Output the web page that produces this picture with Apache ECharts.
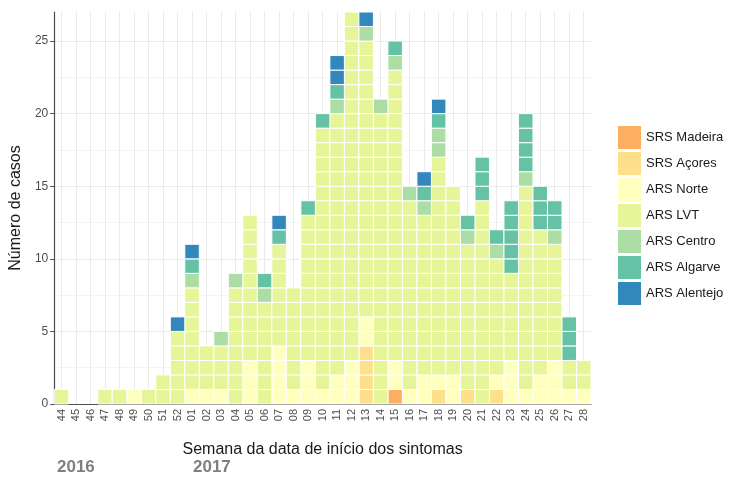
<!DOCTYPE html>
<html>
<head>
<meta charset="utf-8">
<script src="https://cdn.jsdelivr.net/npm/echarts@6/dist/echarts.min.js"></script>
<style>
  html, body { margin: 0; padding: 0; background: #fff; }
  #chart { width: 729px; height: 477px; }
</style>
</head>
<body>
<div id="chart"></div>
<script>
// semanas 44-52 de 2016 e 01-28 de 2017
var weeks = ['44','45','46','47','48','49','50','51','52',
  '01','02','03','04','05','06','07','08','09','10','11','12','13','14',
  '15','16','17','18','19','20','21','22','23','24','25','26','27','28'];

// casos por região e semana (mesma ordem que weeks)
var madeira  = [0,0,0,0,0,0,0,0,0, 0,0,0,0,0,0,0,0,0,0,0,0,0,0,1,0,0,0,0,0,0,0,0,0,0,0,0,0];
var acores   = [0,0,0,0,0,0,0,0,0, 0,0,0,0,0,0,0,0,0,0,0,0,4,0,0,0,0,1,0,1,0,1,0,0,0,0,0,0];
var norte    = [0,0,0,0,0,1,0,0,0, 1,1,1,0,3,0,4,1,3,1,2,3,2,0,2,1,2,1,2,0,0,1,3,1,2,3,1,1];
var lvt      = [1,0,0,1,1,0,1,2,5, 7,3,3,8,10,7,7,7,10,18,18,24,19,20,20,13,11,15,13,10,14,8,6,14,10,8,2,2];
var centro   = [0,0,0,0,0,0,0,0,0, 1,0,1,1,0,1,0,0,0,0,1,0,1,1,1,1,1,2,0,1,0,1,0,1,0,1,0,0];
var algarve  = [0,0,0,0,0,0,0,0,0, 1,0,0,0,0,1,1,0,1,1,1,0,0,0,1,0,1,1,0,1,3,1,5,4,3,2,3,0];
var alentejo = [0,0,0,0,0,0,0,0,1, 1,0,0,0,0,0,1,0,0,0,2,0,1,0,0,0,1,1,0,0,0,0,0,0,0,0,0,0];

var regionNames  = ['SRS Madeira','SRS Açores','ARS Norte','ARS LVT','ARS Centro','ARS Algarve','ARS Alentejo'];
var regionCounts = [madeira, acores, norte, lvt, centro, algarve, alentejo];
var regionColors = ['#FDAE61','#FEE08B','#FFFFBF','#E6F598','#ABDDA4','#66C2A5','#3288BD'];
var yTicks = [0, 5, 10, 15, 20, 25];

var FONT = "'Liberation Sans', Arial, sans-serif";

// um quadrado por caso
function renderCase(params, api) {
  var w = api.value(0), lvl = api.value(1);
  var bottom = api.coord([w, lvl]);
  var top = api.coord([w, lvl + 1]);
  var bw = api.size([1, 0])[0];
  return {
    type: 'rect',
    shape: { x: bottom[0] - bw / 2, y: top[1], width: bw, height: bottom[1] - top[1] },
    style: { fill: api.visual('color'), stroke: '#fff', lineWidth: 1 }
  };
}

// empilhar as regiões, cada caso como uma célula
var base = weeks.map(function () { return 0; });
var series = regionNames.map(function (name, r) {
  var cells = [];
  weeks.forEach(function (wk, i) {
    for (var k = 0; k < regionCounts[r][i]; k++) {
      cells.push([i, base[i] + k]);
    }
    base[i] += regionCounts[r][i];
  });
  return {
    name: name,
    type: 'custom',
    renderItem: renderCase,
    itemStyle: { color: regionColors[r] },
    encode: { x: 0, y: 1 },
    data: cells
  };
});

var chart = echarts.init(document.getElementById('chart'));
var option = {
  animation: false,
  textStyle: { fontFamily: FONT },
  grid: { left: 54, right: 138, top: 12, bottom: 73 },
  legend: {
    orient: 'vertical',
    left: 618,
    top: 126,
    padding: 0,
    itemWidth: 23,
    itemHeight: 23,
    itemGap: 3,
    icon: 'rect',
    data: regionNames,
    textStyle: { fontSize: 13, color: '#1A1A1A', fontFamily: FONT }
  },
  xAxis: {
    type: 'category',
    data: weeks,
    boundaryGap: true,
    name: 'Semana da data de início dos sintomas',
    nameLocation: 'middle',
    nameGap: 38,
    nameTextStyle: { fontSize: 16, color: '#1A1A1A', fontFamily: FONT },
    axisLine: { lineStyle: { color: '#4D4D4D', width: 1.2 } },
    axisTick: { alignWithLabel: true, length: 3, lineStyle: { color: '#4D4D4D' } },
    axisLabel: { rotate: 90, interval: 0, fontSize: 11, color: '#4D4D4D', margin: 5, fontFamily: FONT },
    splitLine: { show: true, alignWithLabel: true, lineStyle: { color: '#EBEBEB', width: 1 } }
  },
  yAxis: {
    type: 'value',
    min: 0,
    max: 27,
    interval: 5,
    name: 'Número de casos',
    nameLocation: 'middle',
    nameGap: 28,
    nameTextStyle: { fontSize: 16, color: '#1A1A1A', fontFamily: FONT },
    axisLine: { show: true, lineStyle: { color: '#4D4D4D', width: 1.2 } },
    axisTick: { show: true, length: 4, customValues: yTicks, lineStyle: { color: '#4D4D4D' } },
    axisLabel: { fontSize: 12, color: '#4D4D4D', margin: 6, customValues: yTicks, fontFamily: FONT },
    splitLine: { show: true, lineStyle: { color: '#EBEBEB', width: 1 } },
    minorTick: { show: false, splitNumber: 2 },
    minorSplitLine: { show: true, lineStyle: { color: '#F4F4F4', width: 1 } }
  },
  graphic: [
    { type: 'text', left: 57, top: 459, style: { text: '2016', font: 'bold 17px ' + FONT, fill: '#7F7F7F' } },
    { type: 'text', left: 193, top: 459, style: { text: '2017', font: 'bold 17px ' + FONT, fill: '#7F7F7F' } }
  ],
  series: series
};
chart.setOption(option);

window.addEventListener('resize', function () {
  chart.resize();
});
</script>
</body>
</html>
